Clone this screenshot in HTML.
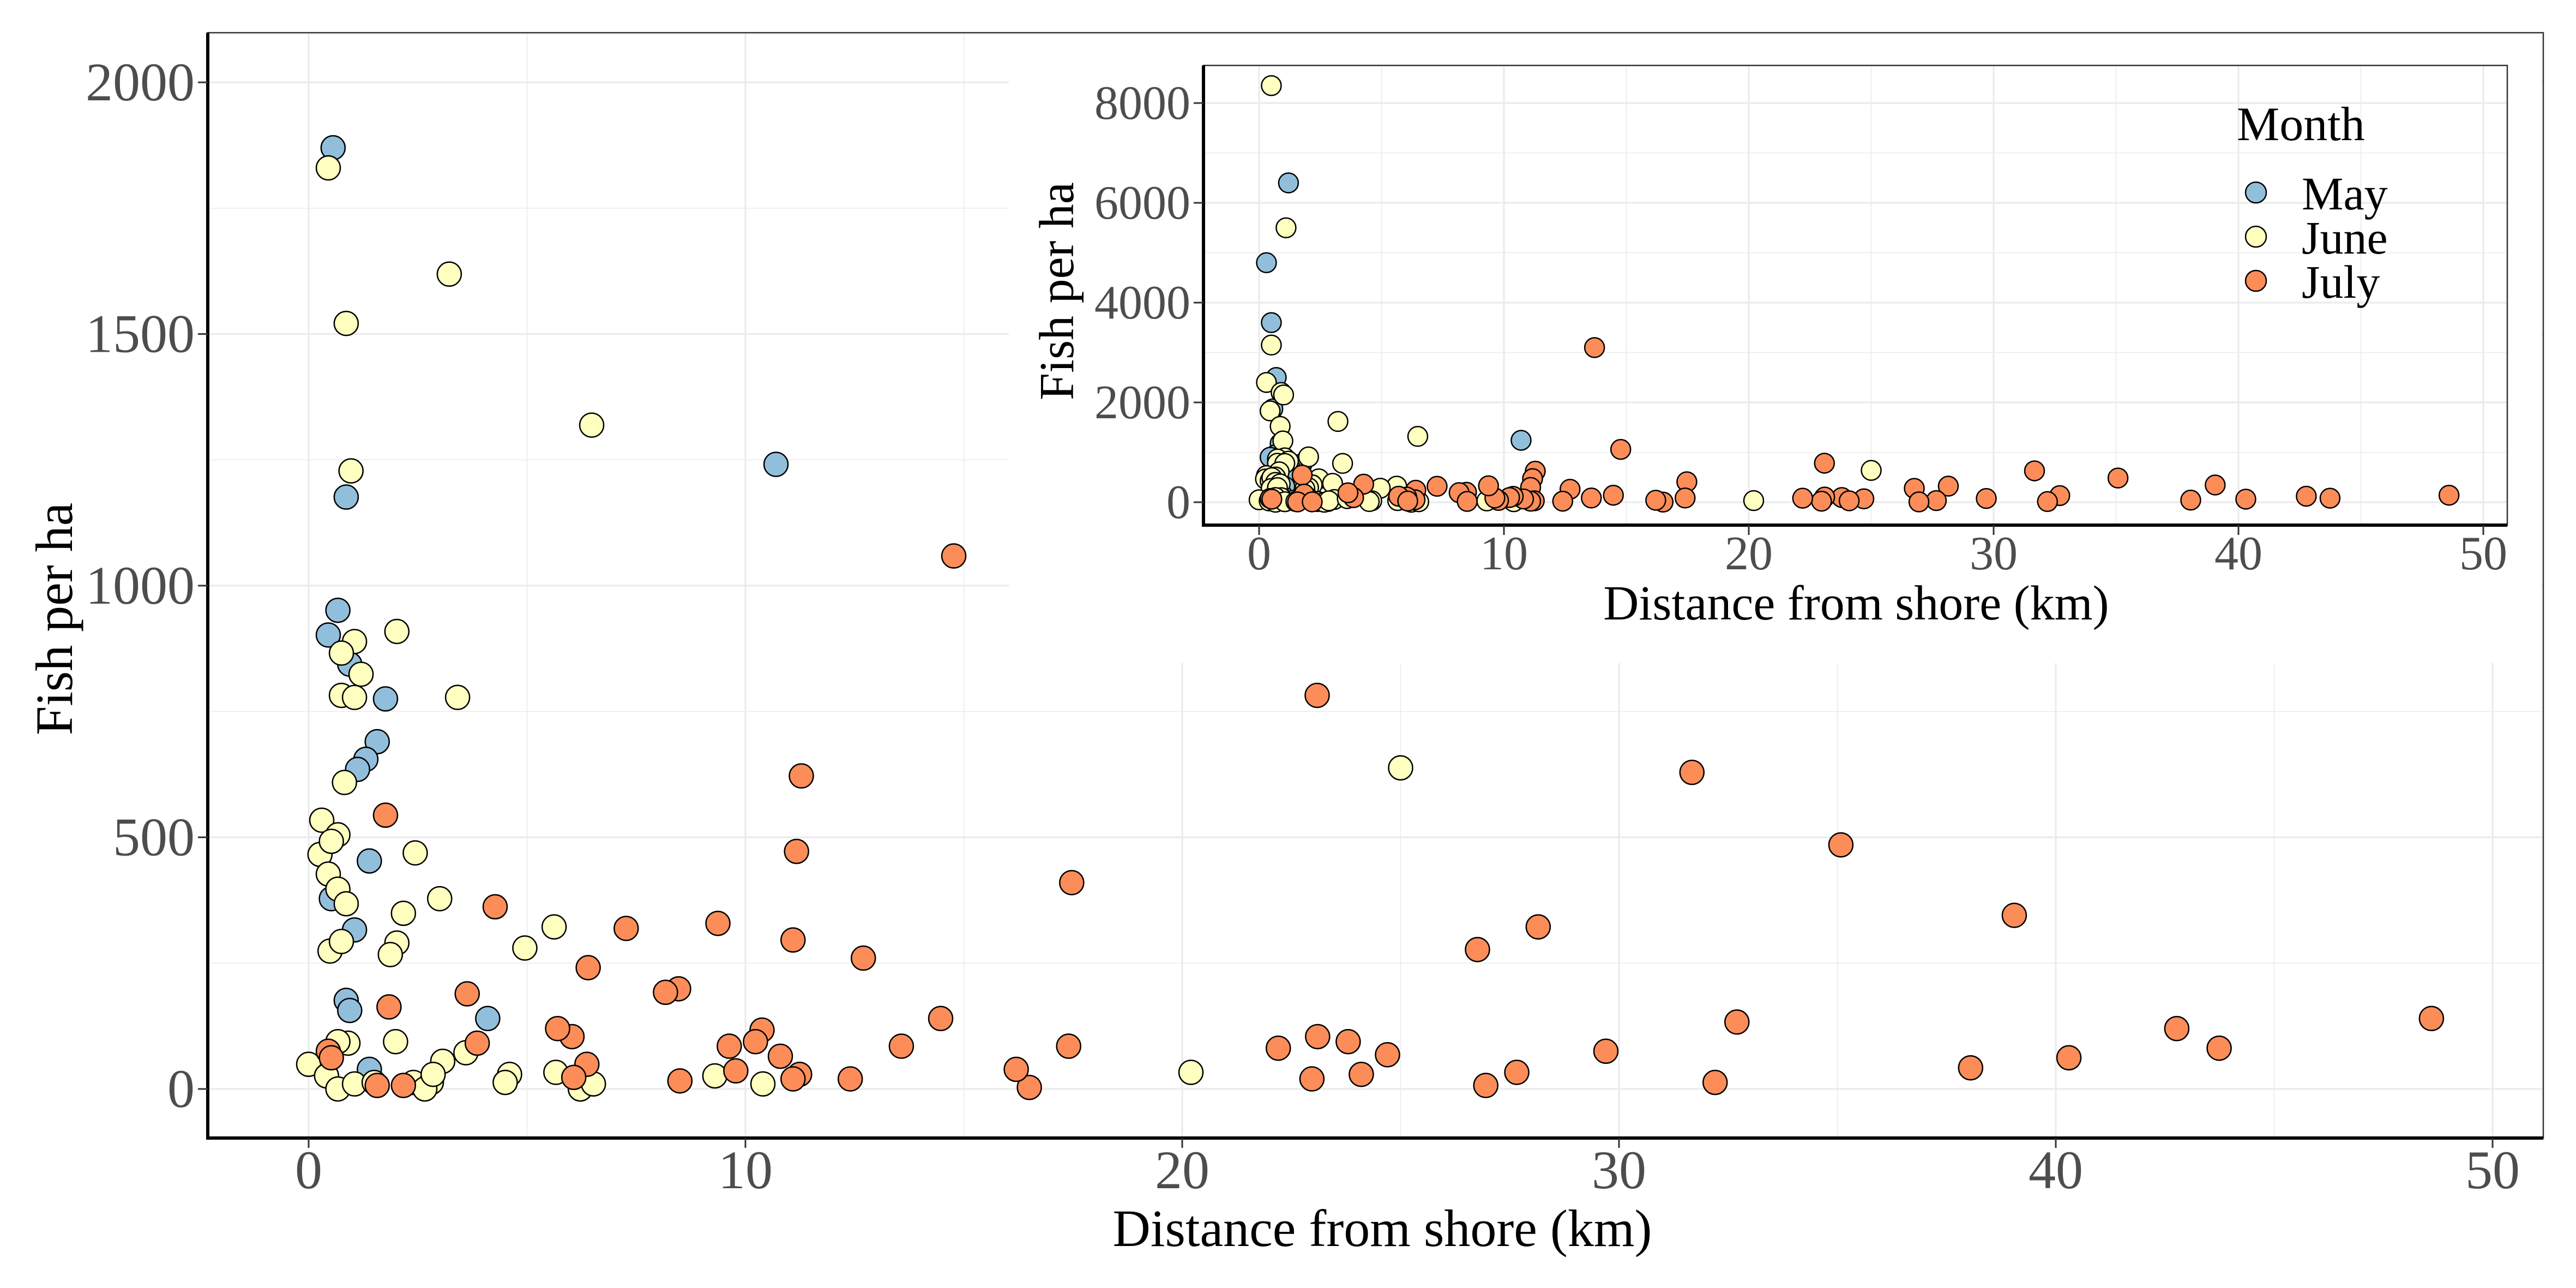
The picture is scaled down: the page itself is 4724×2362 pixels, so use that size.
<!DOCTYPE html>
<html><head><meta charset="utf-8"><style>
html,body{margin:0;padding:0;background:#fff}
svg{display:block}
svg text{font-family:"Liberation Serif",serif}
</style></head><body>
<svg id="c" width="4724" height="2362" viewBox="0 0 4724 2362" xmlns="http://www.w3.org/2000/svg" font-family="Liberation Serif, serif"></svg>
<script>
// ---- data (distance km, fish per ha) ----
const mayX = [0.56,0.86,10.7,0.67,0.45,0.94,1.76,1.57,1.31,1.12,1.39,0.52,1.05,0.86,0.94,4.1,1.39,0.3,0.5,1.2,0.7];
const mayY = [1870,1176,1241,951,902,844,775,690,655,635,453,378,316,176,156,140,39,4800,3600,6400,2500];
const juneX = [0.45,3.22,0.86,0.97,6.48,1.05,2.02,0.75,1.2,0.75,1.05,3.41,0.82,0.3,2.44,0.26,0.67,0.45,0.52,0.67,3.0,0.86,2.17,2.02,1.87,0.49,0.75,5.62,4.95,1.99,0.9,0.67,3.07,0.0,0.41,0.67,1.05,1.5,2.4,2.81,2.66,2.85,3.6,4.6,4.5,5.66,6.22,6.52,9.3,10.4,20.2,25.0,0.5,1.1,0.5,0.3,0.9,1.0];
const juneY = [1830,1619,1521,1228,1319,889,909,866,824,782,778,778,609,534,469,466,505,427,492,397,378,368,349,290,267,274,293,322,280,94,91,94,55,49,26,0,10,13,13,13,0,29,72,29,13,33,0,10,26,10,33,638,8350,5500,3150,2400,2200,2150];
const julyX = [14.77,23.09,31.67,35.08,39.05,42.77,43.74,48.6,38.05,40.3,29.7,32.7,32.2,26.76,28.15,27.66,26.95,24.7,23.8,24.1,23.1,22.97,22.2,17.47,17.4,16.5,16.2,14.47,13.57,12.7,12.4,11.28,11.17,11.09,11.24,11.09,10.8,10.38,10.23,9.78,9.63,9.37,8.47,8.17,8.5,7.27,6.4,6.37,6.03,5.7,6.07,4.27,3.86,3.63,1.76,1.84,1.57,2.17,0.45,0.52,13.7];
const julyY = [1059,782,629,485,345,120,81,140,42,62,75,133,13,277,322,33,7,68,94,29,104,20,81,410,85,3,39,140,85,260,20,622,472,296,29,20,65,117,94,36,85,329,199,192,16,319,241,49,104,120,23,362,91,189,544,163,7,7,75,62,3100];
const mainXTicks = [0,10,20,30,40,50];
const mainYTicks = [0,500,1000,1500,2000];
const insetXTicks = [0,10,20,30,40,50];
const insetYTicks = [0,2000,4000,6000,8000];
const months = ["May","June","July"];
const colors = ["#91BFDB","#FFFFBF","#FC8D59"];

const NS="http://www.w3.org/2000/svg";
const FF="Liberation Serif, serif";
const svg=document.getElementById('c');
function mk(tag,attrs,parent){const e=document.createElementNS(NS,tag);for(const k in attrs)e.setAttribute(k,attrs[k]);if(tag==='text')e.setAttribute('font-family',FF);(parent||svg).appendChild(e);return e;}

function panel(cfg){
  const {L,R,T,B,x0,xs,y0,ys,xT,yT,r,fs,pre}=cfg;
  const sx=v=>x0+v*xs, sy=v=>y0-v*ys;
  const g=mk('g',{});
  
  
  mk('rect',{x:L,y:T,width:R-L,height:B-T,fill:'#fff'},g);
  const cp=mk('clipPath',{id:pre+'clip'},g);mk('rect',{x:L,y:T,width:R-L,height:B-T},cp);
  const grid=mk('g',{'clip-path':'url(#'+pre+'clip)'},g);
  
  
  const dx=xT[1]-xT[0], dy=yT[1]-yT[0];
  for(let i=0;i<xT.length;i++){
    const vm=xT[i]-dx/2; mk('line',{x1:sx(vm),x2:sx(vm),y1:T,y2:B,stroke:'#ebebeb','stroke-width':1.6},grid);
    mk('line',{x1:sx(xT[i]),x2:sx(xT[i]),y1:T,y2:B,stroke:'#ebebeb','stroke-width':3.2},grid);
  }
  mk('line',{x1:sx(xT[xT.length-1]+dx/2),x2:sx(xT[xT.length-1]+dx/2),y1:T,y2:B,stroke:'#ebebeb','stroke-width':1.6},grid);
  for(let i=0;i<yT.length;i++){
    const vm=yT[i]+dy/2; mk('line',{x1:L,x2:R,y1:sy(vm),y2:sy(vm),stroke:'#ebebeb','stroke-width':1.6},grid);
    mk('line',{x1:L,x2:R,y1:sy(yT[i]),y2:sy(yT[i]),stroke:'#ebebeb','stroke-width':3.2},grid);
  }
  mk('line',{x1:L,x2:R,y1:sy(yT[0]-dy/2),y2:sy(yT[0]-dy/2),stroke:'#ebebeb','stroke-width':1.6},grid);
  const pts=mk('g',{'clip-path':'url(#'+pre+'clip)'},g);
  const sets=[[mayX,mayY],[juneX,juneY],[julyX,julyY]];
  sets.forEach((s,k)=>{
    for(let i=0;i<s[0].length;i++){
      const c=mk('circle',{cx:sx(s[0][i]),cy:sy(s[1][i]),r:r,fill:colors[k],stroke:'#000','stroke-width':2.5},pts);
      
      
    }
  });
  mk('rect',{x:L,y:T,width:R-L,height:B-T,fill:'none',stroke:'#333','stroke-width':2.5},g);
  mk('line',{x1:L,x2:L,y1:T,y2:B+3,stroke:'#000','stroke-width':6},g);
  mk('line',{x1:L-3,x2:R,y1:B,y2:B,stroke:'#000','stroke-width':6},g);
  xT.forEach(v=>{
    mk('line',{x1:sx(v),x2:sx(v),y1:B,y2:B+18,stroke:'#333','stroke-width':3},g);
    const t=mk('text',{x:sx(v),y:B+fs*0.92,'font-size':fs,fill:'#4d4d4d','text-anchor':'middle'},g);t.textContent=v;
    
    
  });
  yT.forEach(v=>{
    mk('line',{x1:L-18,x2:L,y1:sy(v),y2:sy(v),stroke:'#333','stroke-width':3},g);
    const t=mk('text',{x:L-24,y:sy(v)+fs*0.33,'font-size':fs,fill:'#4d4d4d','text-anchor':'end'},g);t.textContent=v;
    
    
  });
  return g;
}

// main panel
panel({L:381,R:4664,T:60,B:2087,x0:566,xs:80.1,y0:1997,ys:0.923,xT:mainXTicks,yT:mainYTicks,r:22,fs:100,pre:'main'});
let t=mk('text',{x:2535,y:2285,'font-size':96,fill:'#000','text-anchor':'middle'});t.textContent='Distance from shore (km)';


t=mk('text',{x:0,y:0,'font-size':96,fill:'#000','text-anchor':'middle',transform:'translate(132,1135) rotate(-90)'});t.textContent='Fish per ha';



// inset background
const ib=mk('rect',{x:1850,y:62,width:2810,height:1154,fill:'#fff'});


panel({L:2207,R:4598,T:120,B:963,x0:2309,xs:44.9,y0:921,ys:0.0915,xT:insetXTicks,yT:insetYTicks,r:18,fs:88,pre:'inset'});
t=mk('text',{x:3404,y:1136,'font-size':90,fill:'#000','text-anchor':'middle'});t.textContent='Distance from shore (km)';


t=mk('text',{x:0,y:0,'font-size':90,fill:'#000','text-anchor':'middle',transform:'translate(1968,534) rotate(-90)'});t.textContent='Fish per ha';



// legend
t=mk('text',{x:4102,y:257,'font-size':88,fill:'#000'});t.textContent='Month';


const ly=[353,434,515];
months.forEach((m,k)=>{
  const c=mk('circle',{cx:4137,cy:ly[k],r:19,fill:colors[k],stroke:'#000','stroke-width':2.5});
  
  
  const l=mk('text',{x:4221,y:ly[k]+31,'font-size':86,fill:'#000'});l.textContent=m;
  
  
});
</script>
</body></html>
